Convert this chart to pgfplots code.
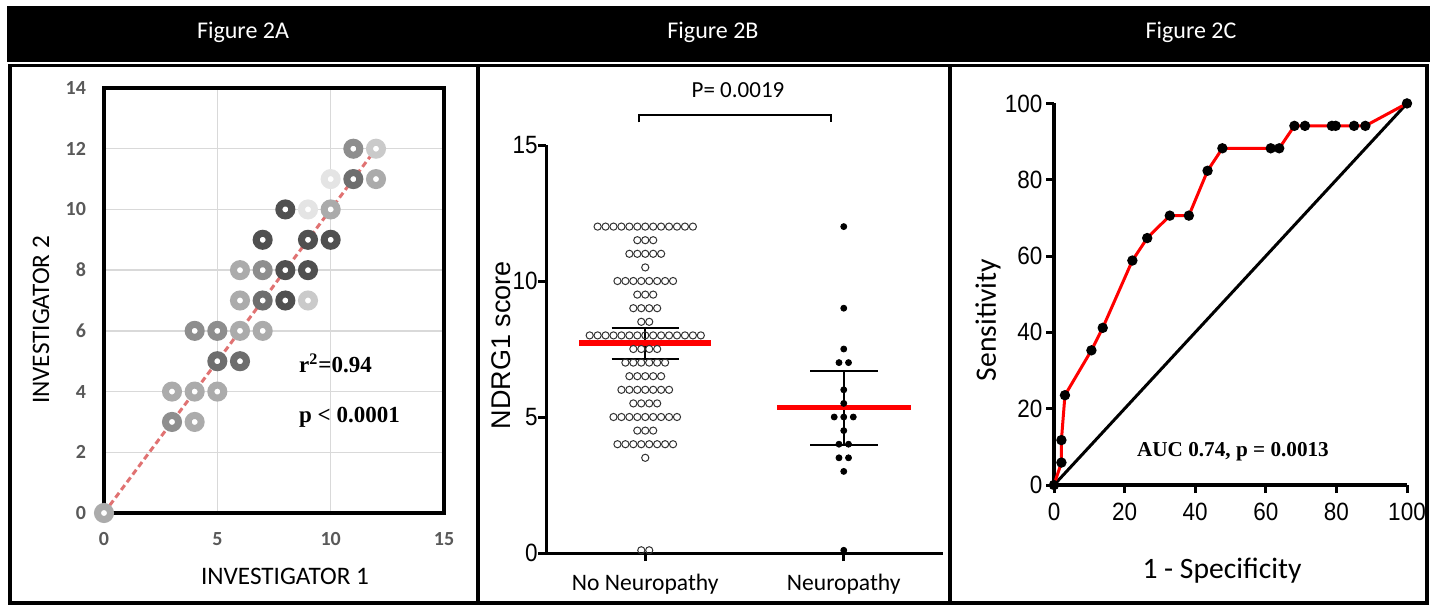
\documentclass[border=0pt]{standalone}
\usepackage{pgfplots}
\pgfplotsset{compat=1.18}
\usepackage{fontspec}
\setmainfont{Carlito}
\newfontfamily\arialf{Liberation Sans}
\newfontfamily\timesf{Liberation Serif}
\definecolor{gridg}{HTML}{D9D9D9}
\definecolor{tickg}{HTML}{595959}
\definecolor{sA}{HTML}{E4E4E4}
\definecolor{sB}{HTML}{CACACA}
\definecolor{sC}{HTML}{ABABAB}
\definecolor{sD}{HTML}{8E8E8E}
\definecolor{sE}{HTML}{6E6E6E}
\definecolor{sF}{HTML}{505050}
\definecolor{dashred}{HTML}{E07272}
\definecolor{rocred}{HTML}{FF0000}
\pgfplotsset{ring/.style={only marks, mark=*, mark size=3.25pt, mark options={draw=#1, fill=white, line width=3.5pt}}}
\begin{document}
\begin{tikzpicture}
% header
\fill[black] (3.5pt,-3pt) rectangle (715pt,-31pt);
\node[text=white, font=\fontsize{12}{14}\selectfont] at (121.5pt,-16pt) {Figure 2A};
\node[text=white, font=\fontsize{12}{14}\selectfont] at (356.5pt,-16pt) {Figure 2B};
\node[text=white, font=\fontsize{12}{14}\selectfont] at (595.5pt,-16pt) {Figure 2C};
% frames
\draw[line width=1.8pt] (5pt,-301.5pt) -- (5pt,-32.8pt) -- (713.5pt,-32.8pt) -- (713.5pt,-301.5pt) -- cycle;
\draw[line width=1.8pt] (239pt,-32.8pt) -- (239pt,-301.5pt);
\draw[line width=1.8pt] (475pt,-32.8pt) -- (475pt,-301.5pt);

% ---------------- Panel A ----------------
\begin{axis}[at={(52pt,-256.5pt)}, anchor=south west, scale only axis,
  width=170pt, height=212.5pt, xmin=0, xmax=15, ymin=0, ymax=14,
  xtick={0,5,10,15}, ytick={0,2,...,14}, grid=major,
  major grid style={gridg, line width=0.75pt},
  axis line style={line width=1.8pt}, tick style={draw=none},
  ticklabel style={font=\fontsize{10}{12}\selectfont\bfseries, text=tickg, /pgf/number format/assume math mode=true},
  xticklabel style={yshift=-6pt}, yticklabel style={xshift=-5.5pt},
  clip=false, axis on top=false]
\addplot[ring=sA] coordinates {(9,10) (10,11)};
\addplot[ring=sB] coordinates {(9,7) (12,12)};
\addplot[ring=sC] coordinates {(0,0) (4,3) (3,4) (4,4) (5,4) (6,6) (7,6) (6,7) (6,8) (12,11) (10,10)};
\addplot[ring=sD] coordinates {(3,3) (4,6) (5,6) (7,8) (11,12)};
\addplot[ring=sE] coordinates {(5,5) (6,5) (7,7) (11,11)};
\addplot[ring=sF] coordinates {(8,7) (8,8) (9,8) (7,9) (9,9) (10,9) (8,10)};
\addplot[dashred, line width=1.5pt, dash pattern=on 3pt off 1.8pt] coordinates {(0,0) (12,12)};
\node[anchor=west, font=\fontsize{11.5}{13}\selectfont\timesf\bfseries] at (axis cs:8.3,4.93) {r\textsuperscript{2}=0.94};
\node[anchor=west, font=\fontsize{11.5}{13}\selectfont\timesf\bfseries] at (axis cs:8.3,3.16) {p < 0.0001};
\end{axis}
\node[font=\fontsize{12.6}{14}\selectfont] at (142.5pt,-288pt) {INVESTIGATOR 1};
\node[font=\fontsize{12.6}{14}\selectfont, rotate=90] at (20.5pt,-160pt) {INVESTIGATOR 2};

% ---------------- Panel B ----------------
\begin{axis}[at={(273pt,-276.5pt)}, anchor=south west, scale only axis,
  width=198.5pt, height=204pt, xmin=0.5, xmax=2.5, ymin=0, ymax=15,
  axis x line=bottom, axis y line=left, axis line style={-, line width=1.5pt},
  xtick={1,2}, xticklabels={No Neuropathy, Neuropathy}, ytick={0,5,10,15},
  tick align=outside, major tick length=4pt, tick style={line width=1.5pt, black},
  yticklabel style={font=\fontsize{12.5}{14}\selectfont\arialf, /pgf/number format/assume math mode=true, xshift=3pt, xscale=0.9},
  xticklabel style={font=\fontsize{11.8}{13}\selectfont, yshift=-3pt},
  clip=false]
\addplot[only marks, mark=o, mark size=1.8pt, mark options={draw=black!80, line width=0.5pt}] coordinates {
(0.76,12) (0.80,12) (0.84,12) (0.88,12) (0.92,12) (0.96,12) (1.00,12) (1.04,12) (1.08,12) (1.12,12) (1.16,12) (1.20,12) (1.24,12)
(0.96,11.5) (1.00,11.5) (1.04,11.5)
(0.92,11) (0.96,11) (1.00,11) (1.04,11) (1.08,11)
(1.00,10.5)
(0.86,10) (0.90,10) (0.94,10) (0.98,10) (1.02,10) (1.06,10) (1.10,10) (1.14,10)
(0.96,9.5) (1.00,9.5) (1.04,9.5)
(0.94,9) (0.98,9) (1.02,9) (1.06,9)
(0.98,8.5) (1.02,8.5)
(0.72,8) (0.76,8) (0.80,8) (0.84,8) (0.88,8) (0.92,8) (0.96,8) (1.00,8) (1.04,8) (1.08,8) (1.12,8) (1.16,8) (1.20,8) (1.24,8) (1.28,8)
(0.94,7.5) (0.98,7.5) (1.02,7.5) (1.06,7.5)
(0.90,7) (0.94,7) (0.98,7) (1.02,7) (1.06,7) (1.10,7)
(0.92,6.5) (0.96,6.5) (1.00,6.5) (1.04,6.5) (1.08,6.5)
(0.88,6) (0.92,6) (0.96,6) (1.00,6) (1.04,6) (1.08,6) (1.12,6)
(0.94,5.5) (0.98,5.5) (1.02,5.5) (1.06,5.5)
(0.84,5) (0.88,5) (0.92,5) (0.96,5) (1.00,5) (1.04,5) (1.08,5) (1.12,5) (1.16,5)
(0.96,4.5) (1.00,4.5) (1.04,4.5)
(0.86,4) (0.90,4) (0.94,4) (0.98,4) (1.02,4) (1.06,4) (1.10,4) (1.14,4)
(1.00,3.5)
(0.98,0.1) (1.02,0.1)
};
\addplot[only marks, mark=*, mark size=1.5pt, mark options={black}] coordinates {
(2,12) (2,9) (2,7.5) (1.976,7) (2.024,7) (2,6) (2,5.5)
(1.952,5) (2,5) (2.048,5) (2,4.5) (1.976,4) (2.024,4) (1.976,3.5) (2.024,3.5) (2,3) (2,0.1)
};
% error bars
\addplot[black, line width=1pt] coordinates {(0.83,8.29) (1.17,8.29)};
\addplot[black, line width=1pt] coordinates {(0.83,7.14) (1.17,7.14)};
\addplot[black, line width=1pt] coordinates {(1,7.14) (1,8.29)};
\addplot[black, line width=1pt] coordinates {(1.83,6.69) (2.17,6.69)};
\addplot[black, line width=1pt] coordinates {(1.83,3.97) (2.17,3.97)};
\addplot[black, line width=1pt] coordinates {(2,3.97) (2,6.69)};
% medians
\addplot[rocred, line width=2.7pt] coordinates {(0.667,7.72) (1.333,7.72)};
\addplot[rocred, line width=2.7pt] coordinates {(1.665,5.35) (2.338,5.35)};
% bracket
\draw[line width=0.9pt] (axis cs:0.97,15.83) -- (axis cs:0.97,16.1) -- (axis cs:1.935,16.1) -- (axis cs:1.935,15.83);
\end{axis}
\node[font=\fontsize{13.5}{15}\selectfont\arialf, rotate=90] at (250.5pt,-172.5pt) {NDRG1 score};
\node[font=\fontsize{11.5}{13}\selectfont] at (369pt,-45pt) {P= 0.0019};

% ---------------- Panel C ----------------
\begin{axis}[at={(527pt,-242.5pt)}, anchor=south west, scale only axis,
  width=176.5pt, height=190.8pt, xmin=0, xmax=100, ymin=0, ymax=100,
  axis x line=bottom, axis y line=left, axis line style={-, line width=1.6pt},
  xtick={0,20,...,100}, ytick={0,20,...,100},
  tick align=outside, major tick length=4pt, tick style={line width=1.5pt, black},
  ticklabel style={font=\fontsize{12.5}{14}\selectfont\arialf, /pgf/number format/assume math mode=true, xscale=0.9},
  xticklabel style={yshift=-1.5pt}, yticklabel style={xshift=1.5pt},
  clip=false]
\addplot[black, line width=1.5pt] coordinates {(0,0) (100,100)};
\addplot[rocred, line width=1.5pt, mark=*, mark size=1.8pt, mark options={black, fill=black}] coordinates {
(0,0) (2.1,5.88) (2.1,11.76) (3.1,23.53) (10.6,35.29) (13.8,41.18) (22.2,58.82) (26.4,64.71)
(32.8,70.59) (38.2,70.59) (43.5,82.35) (47.7,88.24) (61.4,88.24) (63.8,88.24)
(68.1,94.12) (71.1,94.12) (78.7,94.12) (79.8,94.12) (85.0,94.12) (88.2,94.12) (100,100)
};
\node[font=\fontsize{10.6}{12}\selectfont\timesf\bfseries] at (axis cs:50.7,8.8) {AUC 0.74, p = 0.0013};
\end{axis}
\node[font=\fontsize{14.8}{16}\selectfont, rotate=90] at (494pt,-160pt) {Sensitivity};
\node[font=\fontsize{14.8}{16}\selectfont] at (611pt,-285.5pt) {1 - Specificity};

\pgfresetboundingbox
\path[use as bounding box] (0,0) rectangle (717.5pt,-302.5pt);
\end{tikzpicture}
\end{document}
